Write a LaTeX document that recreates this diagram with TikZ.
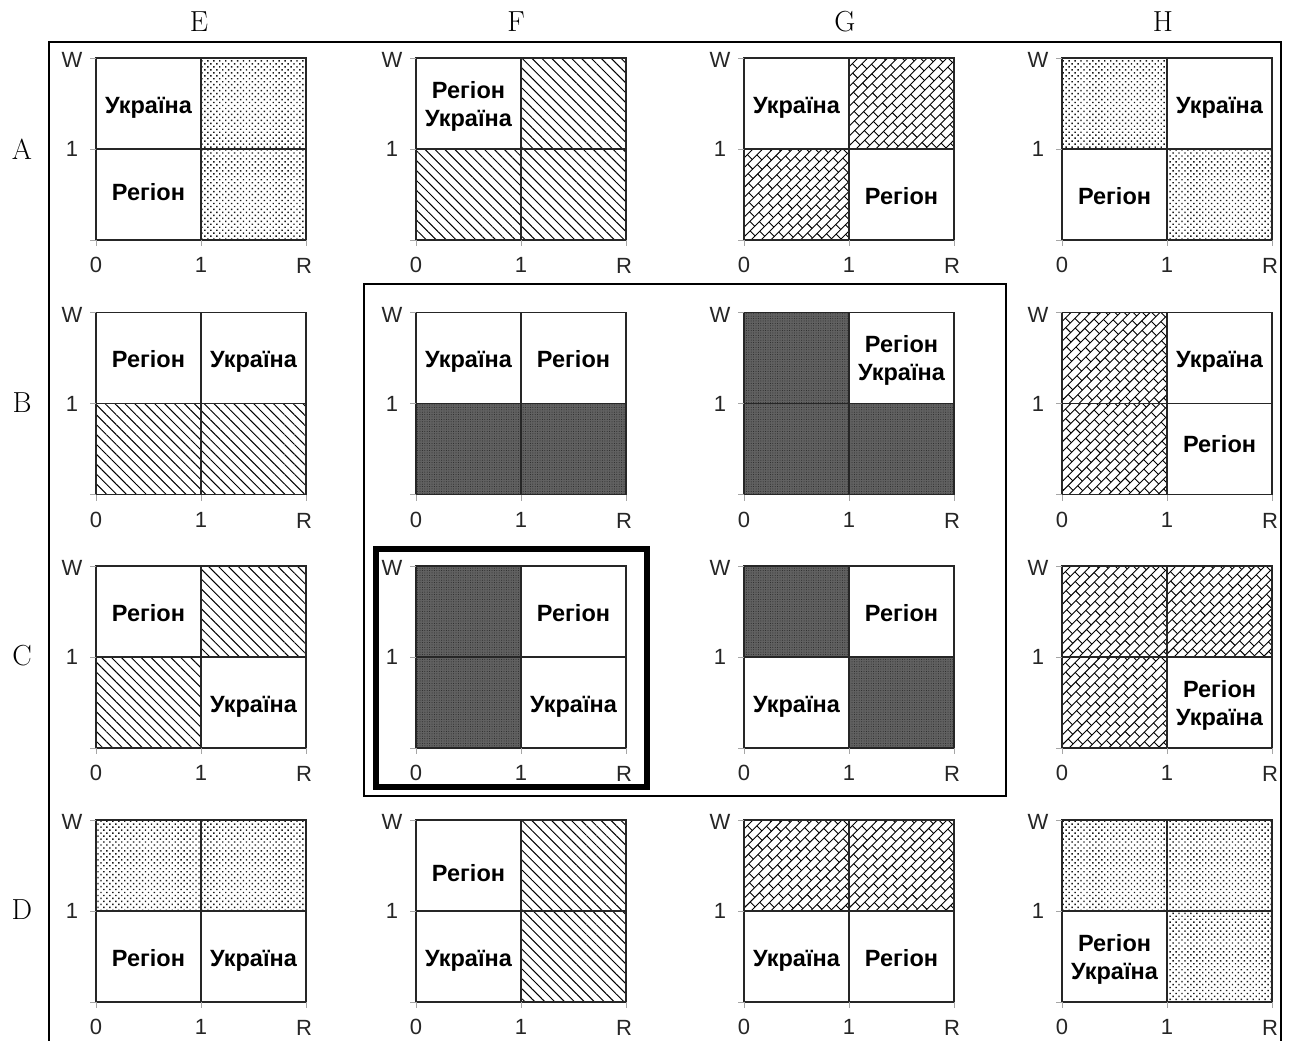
\documentclass[tikz,border=0pt]{standalone}
\usepackage{fontspec}
\setsansfont{Liberation Sans}
\usetikzlibrary{patterns,patterns.meta}

\tikzset{
  panelgrid/.style={draw=black!85, line width=1.9pt},
  axtick/.style={draw=black!35, line width=0.8pt},
  axlabel/.style={font=\sffamily\fontsize{22}{25}\selectfont, text=black!85, inner sep=0pt},
  celltext/.style={font=\sffamily\bfseries\fontsize{23.5}{27}\selectfont, inner sep=0pt, anchor=base},
  hdr/.style={font=\fontsize{29}{32}\selectfont, inner sep=0pt},
  dotsp/.style={pattern={Dots[angle=45,distance=4.2pt,radius=1pt]}, pattern color=black!90},
  hatchp/.style={pattern={Lines[angle=-45,distance=7pt,line width=1pt]}, pattern color=black},
  darkp/.style={fill=black!62, postaction={pattern={Dots[distance=2.4pt,radius=0.5pt]}, pattern color=black!85}},
  brickline/.style={draw=black, line width=0.9pt},
}

% fill a quadrant with a pattern style
\newcommand\qfill[2]{\path[#2] (#1) rectangle ++(105,91);}
% brick quadrant, top-left corner at (#1,#2) in panel coordinates
\newcommand\qbrick[2]{%
  \begin{scope}
    \clip (#1,#2) rectangle ++(105,91);
    \begin{scope}[shift={(#1+52.5,#2+45.5)}, rotate=45]
      \foreach \i in {-11,...,10} {
        \draw[brickline] (-76,\i*7) -- (76,\i*7);
        \pgfmathsetmacro\boff{6.5*mod(\i+40,2)}
        \foreach \k in {-6,...,6} {\draw[brickline] (\k*13+\boff,\i*7) -- ++(0,7);}
      }
    \end{scope}
  \end{scope}}
% one-line text in a quadrant
\newcommand\qt[3]{\node[celltext] (#1) at (b#2) {#3};}
% two-line text in a quadrant
\newcommand\qtt[4]{\node[celltext] (#1-a) at (t#2) {#3};\node[celltext] (#1-b) at (u#2) {#4};}
% text at explicit baseline point
\newcommand\qtat[4]{\node[celltext] (#1) at (#2,#3) {#4};}

\newcommand\panel[4]{%
\begin{scope}[shift={(#2,#3)}]
  \coordinate (TL) at (0,0); \coordinate (TR) at (105,0);
  \coordinate (BL) at (0,91); \coordinate (BR) at (105,91);
  \coordinate (bTL) at (52.5,55); \coordinate (bTR) at (157.5,55);
  \coordinate (bBL) at (52.5,146); \coordinate (bBR) at (157.5,146);
  \coordinate (tTL) at (52.5,40); \coordinate (tTR) at (157.5,40);
  \coordinate (tBL) at (52.5,131); \coordinate (tBR) at (157.5,131);
  \coordinate (uTL) at (52.5,68); \coordinate (uTR) at (157.5,68);
  \coordinate (uBL) at (52.5,159); \coordinate (uBR) at (157.5,159);
  #4
  \draw[panelgrid] (0,0) rectangle (210,182) (105,0) -- (105,182) (0,91) -- (210,91);
  \draw[axtick] (-6,0) -- (0,0) (-6,91) -- (0,91) (-6,182) -- (0,182)
                (0,182) -- (0,188) (105,182) -- (105,188) (210,182) -- (210,188);
  \node[axlabel] (#1-W) at (-24,2) {W};
  \node[axlabel] (#1-one) at (-24,91) {1};
  \node[axlabel] (#1-x0) at (0,207) {0};
  \node[axlabel] (#1-x1) at (105,207) {1};
  \node[axlabel] (#1-xR) at (208,208) {R};
\end{scope}}

\begin{document}
\begin{tikzpicture}[x=1pt,y=-1pt]
\useasboundingbox (0,0) rectangle (1290,1041);
\fill[white] (0,0) rectangle (1290,1041);

% headers
\node[hdr] (hE) at (199,22) {E};
\node[hdr] (hF) at (516,22) {F};
\node[hdr] (hG) at (845,22) {G};
\node[hdr] (hH) at (1163,22) {H};
\node[hdr] (hA) at (22,149) {A};
\node[hdr] (hB) at (22,403) {B};
\node[hdr] (hC) at (22,656) {C};
\node[hdr] (hD) at (22,910) {D};

% frames
\draw[line width=1.4pt] (49,1041) -- (49,42) -- (1281,42) -- (1281,1041);
\draw[line width=1.1pt] (364,284) rectangle (1006,796);
\draw[line width=6.5pt] (376,549) rectangle (647,787);

% row A
\panel{EA}{96}{58}{\qfill{TR}{dotsp}\qfill{BR}{dotsp}\qt{EA-u}{TL}{Україна}\qtat{EA-r}{52.5}{142}{Регіон}}
\panel{FA}{416}{58}{\qfill{TR}{hatchp}\qfill{BL}{hatchp}\qfill{BR}{hatchp}\qtt{FA-ru}{TL}{Регіон}{Україна}}
\panel{GA}{744}{58}{\qbrick{105}{0}\qbrick{0}{91}\qt{GA-u}{TL}{Україна}\qt{GA-r}{BR}{Регіон}}
\panel{HA}{1062}{58}{\qfill{TL}{dotsp}\qfill{BR}{dotsp}\qt{HA-u}{TR}{Україна}\qt{HA-r}{BL}{Регіон}}

% row B
\panel{EB}{96}{312.5}{\qfill{BL}{hatchp}\qfill{BR}{hatchp}\qt{EB-r}{TL}{Регіон}\qt{EB-u}{TR}{Україна}}
\panel{FB}{416}{312.5}{\qfill{BL}{darkp}\qfill{BR}{darkp}\qt{FB-u}{TL}{Україна}\qt{FB-r}{TR}{Регіон}}
\panel{GB}{744}{312.5}{\qfill{TL}{darkp}\qfill{BL}{darkp}\qfill{BR}{darkp}\qtt{GB-ru}{TR}{Регіон}{Україна}}
\panel{HB}{1062}{312.5}{\qbrick{0}{0}\qbrick{0}{91}\qt{HB-u}{TR}{Україна}\qtat{HB-r}{157.5}{140}{Регіон}}

% row C
\panel{EC}{96}{566}{\qfill{TR}{hatchp}\qfill{BL}{hatchp}\qt{EC-r}{TL}{Регіон}\qt{EC-u}{BR}{Україна}}
\panel{FC}{416}{566}{\qfill{TL}{darkp}\qfill{BL}{darkp}\qt{FC-r}{TR}{Регіон}\qt{FC-u}{BR}{Україна}}
\panel{GC}{744}{566}{\qfill{TL}{darkp}\qfill{BR}{darkp}\qt{GC-r}{TR}{Регіон}\qt{GC-u}{BL}{Україна}}
\panel{HC}{1062}{566}{\qbrick{0}{0}\qbrick{105}{0}\qbrick{0}{91}\qtt{HC-ru}{BR}{Регіон}{Україна}}

% row D
\panel{ED}{96}{820}{\qfill{TL}{dotsp}\qfill{TR}{dotsp}\qt{ED-r}{BL}{Регіон}\qt{ED-u}{BR}{Україна}}
\panel{FD}{416}{820}{\qfill{TR}{hatchp}\qfill{BR}{hatchp}\qtat{FD-r}{52.5}{61}{Регіон}\qt{FD-u}{BL}{Україна}}
\panel{GD}{744}{820}{\qbrick{0}{0}\qbrick{105}{0}\qt{GD-u}{BL}{Україна}\qt{GD-r}{BR}{Регіон}}
\panel{HD}{1062}{820}{\qfill{TL}{dotsp}\qfill{TR}{dotsp}\qfill{BR}{dotsp}\qtt{HD-ru}{BL}{Регіон}{Україна}}
\end{tikzpicture}
\end{document}
